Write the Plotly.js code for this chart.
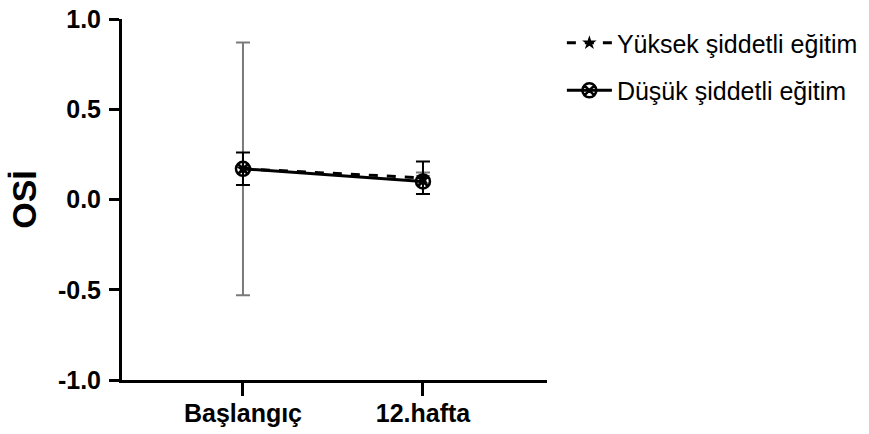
<!DOCTYPE html>
<html>
<head>
<meta charset="utf-8">
<script src="https://cdn.plot.ly/plotly-3.0.1.min.js"></script>
<style>html,body{margin:0;padding:0;background:#fff;}#chart{width:869px;height:434px;}</style>
</head>
<body>
<div id="chart"></div>
<script>
const categories = ["Başlangıç", "12.hafta"];
const seriesNames = ["Yüksek şiddetli eğitim", "Düşük şiddetli eğitim"];
const yuksekMean = [0.17, 0.12];
const yuksekErr = [0.70, 0.03];
const dusukMean = [0.17, 0.10];
const dusukErrPlus = [0.09, 0.11];
const dusukErrMinus = [0.09, 0.07];
const yTicks = [-1.0, -0.5, 0.0, 0.5, 1.0];
const yTickText = ["-1.0", "-0.5", "0.0", "0.5", "1.0"];

const traces = [
  {
    x: categories, y: yuksekMean, name: seriesNames[0], legendgroup: "a", type: "scatter", mode: "lines+markers",
    line: {color: "#000", width: 3, dash: "dash"},
    marker: {symbol: "star", size: 11, color: "#000"},
    error_y: {type: "data", array: yuksekErr, visible: true, color: "#7a7a7a", thickness: 2, width: 7}
  },
  {
    x: categories, y: dusukMean, name: seriesNames[1], legendgroup: "b", type: "scatter", mode: "lines+markers",
    line: {color: "#000", width: 3},
    marker: {symbol: "circle-x-open", size: 14, color: "#000", line: {color: "#000", width: 2.5}},
    error_y: {type: "data", symmetric: false, array: dusukErrPlus, arrayminus: dusukErrMinus, visible: true, color: "#000", thickness: 2, width: 7}
  }
];

const layout = {
  width: 869, height: 434,
  margin: {l: 122, r: 322, t: 19, b: 54, pad: 0, autoexpand: false},
  paper_bgcolor: "#fff", plot_bgcolor: "#fff",
  font: {family: "Liberation Sans, Arial, sans-serif", color: "#000"},
  showlegend: true,
  legend: {x: 1.035, y: 0.997, xanchor: "left", yanchor: "top", font: {size: 25, color: "#000"},
           traceorder: "grouped", tracegroupgap: 12, itemwidth: 45, bgcolor: "rgba(0,0,0,0)"},
  xaxis: {
    type: "category", range: [-0.672, 1.689], showgrid: false, zeroline: false,
    showline: true, linecolor: "#000", linewidth: 3,
    ticks: "outside", ticklen: 13, tickwidth: 3, tickcolor: "#000", ticklabelstandoff: -4,
    tickfont: {size: 25, color: "#000", family: "Liberation Sans, Arial, sans-serif", weight: "bold"},
    fixedrange: true
  },
  yaxis: {
    range: [-1.0, 1.0], showgrid: false, zeroline: false,
    showline: true, linecolor: "#000", linewidth: 3,
    ticks: "outside", ticklen: 10, tickwidth: 3, tickcolor: "#000", ticklabelstandoff: 3,
    tickvals: yTicks, ticktext: yTickText,
    tickfont: {size: 25, color: "#000", family: "Liberation Sans, Arial, sans-serif", weight: "bold"},
    title: {text: "OSİ", font: {size: 34, color: "#000", family: "Liberation Sans, Arial, sans-serif", weight: "bold"}, standoff: 12},
    fixedrange: true
  }
};

Plotly.newPlot("chart", traces, layout, {staticPlot: true, displayModeBar: false});
</script>
</body>
</html>
